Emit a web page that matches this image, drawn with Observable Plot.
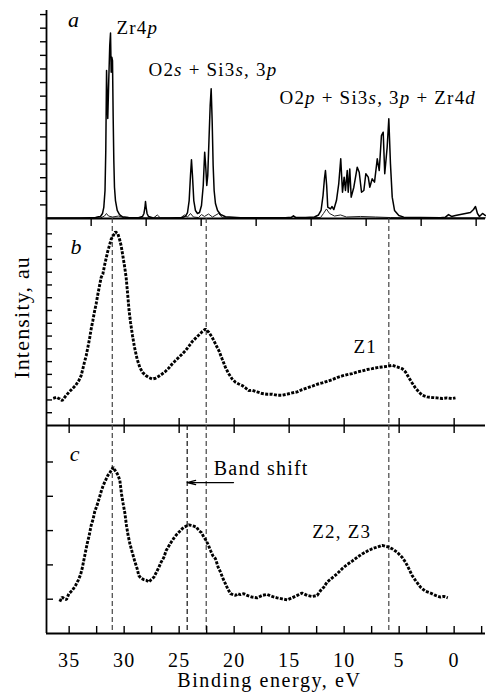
<!DOCTYPE html>
<html><head><meta charset="utf-8">
<script src="https://cdn.jsdelivr.net/npm/d3@7"></script>
<script src="https://cdn.jsdelivr.net/npm/@observablehq/plot@0.6"></script>
<style>
body{margin:0;background:#fff;}
#chart{position:relative;width:486px;height:692px;background:#fff;}
#chart svg{position:absolute;left:0;overflow:visible;font-family:"Liberation Serif","Times New Roman",serif !important;}
#chart text, #chart tspan{letter-spacing:1.2px;font-family:"Liberation Serif","Times New Roman",serif !important;}
#chart text.xlab{letter-spacing:1.6px;}
</style></head><body><div id="chart"></div>
<script>
// ---------- data ----------
const xDomain = [37.06, -2.85];

// panel a: calculated DOS (energy eV, intensity au)
const aMain = [[37.06,0.03],[35.79,0.03],[33.97,0.04],[33.06,0.06],[32.6,0.07],[32.33,0.13],[32.15,0.15],[31.97,0.37],[31.85,0.82],[31.74,2.06],[31.67,5.0],[31.6,10.88],[31.54,8.68],[31.49,7.35],[31.4,10.15],[31.31,12.72],[31.24,13.65],[31.18,10.76],[31.12,11.86],[31.06,11.62],[31.0,7.5],[30.94,4.26],[30.88,2.3],[30.79,1.32],[30.63,0.59],[30.42,0.29],[30.15,0.13],[29.6,0.07],[28.7,0.05],[28.33,0.15],[28.2,0.37],[28.11,0.81],[28.06,1.25],[28.0,0.81],[27.92,0.37],[27.79,0.15],[27.42,0.05],[25.79,0.04],[24.7,0.07],[24.42,0.18],[24.24,0.44],[24.09,1.32],[23.97,3.16],[23.88,4.32],[23.79,3.16],[23.67,1.32],[23.52,0.59],[23.33,0.37],[23.15,0.44],[22.97,0.96],[22.81,2.43],[22.68,4.88],[22.59,3.9],[22.49,2.43],[22.4,3.16],[22.29,5.74],[22.18,8.31],[22.09,9.54],[22.0,7.21],[21.91,3.9],[21.82,2.06],[21.7,1.1],[21.51,0.59],[21.24,0.29],[20.79,0.13],[19.42,0.06],[15.33,0.05],[14.79,0.09],[14.61,0.2],[14.42,0.09],[13.51,0.07],[12.7,0.11],[12.33,0.26],[12.1,0.59],[11.92,1.69],[11.79,2.94],[11.7,3.53],[11.59,2.43],[11.49,0.83],[11.24,0.71],[11.1,0.88],[10.94,0.66],[10.7,1.32],[10.49,2.57],[10.31,4.39],[10.15,1.93],[10.0,3.04],[9.88,2.06],[9.72,3.53],[9.63,1.93],[9.49,3.65],[9.36,1.57],[9.12,2.3],[8.81,3.77],[8.63,3.4],[8.42,1.93],[8.21,2.06],[8.03,3.29],[7.81,3.04],[7.67,2.3],[7.45,2.92],[7.24,2.67],[6.99,4.39],[6.81,3.53],[6.61,6.1],[6.45,6.35],[6.31,3.29],[6.09,5.24],[5.94,7.33],[5.79,4.02],[5.63,1.57],[5.42,0.59],[5.03,0.22],[4.58,0.1],[3.06,0.07],[1.24,0.05],[0.79,0.1],[0.51,0.29],[0.24,0.15],[-0.12,0.22],[-0.57,0.29],[-1.03,0.37],[-1.48,0.44],[-1.76,0.66],[-1.94,0.88],[-2.12,0.37],[-2.3,0.15],[-2.58,0.37],[-2.85,0.22]];
const aPartial = [[37.06,0.01],[32.15,0.04],[31.79,0.18],[31.61,0.37],[31.42,0.18],[31.06,0.11],[30.51,0.18],[29.97,0.05],[27.33,0.04],[26.99,0.26],[26.7,0.04],[24.88,0.05],[24.51,0.26],[24.24,0.11],[23.97,0.37],[23.7,0.11],[23.24,0.07],[22.97,0.29],[22.7,0.15],[22.33,0.33],[21.97,0.11],[21.42,0.37],[21.06,0.05],[14.88,0.04],[14.61,0.18],[14.33,0.04],[12.15,0.07],[11.88,0.37],[11.61,0.7],[11.33,0.37],[10.88,0.18],[10.33,0.26],[9.79,0.11],[8.51,0.15],[7.15,0.11],[5.79,0.07],[3.06,0.04],[0.79,0.05],[-2.85,0.05]];

// panel b: measured spectrum
const bSpectrum = [[36.45,2.13],[36.15,2.21],[35.85,2.08],[35.64,1.95],[35.33,2.29],[35.03,2.6],[34.73,2.86],[34.42,3.13],[34.12,3.52],[33.91,3.91],[33.76,4.42],[33.61,4.95],[33.45,5.47],[33.3,6.12],[33.15,6.77],[33.0,7.55],[32.85,8.2],[32.7,8.9],[32.55,9.5],[32.39,10.28],[32.24,10.94],[32.09,11.59],[31.94,11.84],[31.79,12.5],[31.64,13.07],[31.48,13.67],[31.33,14.11],[31.18,14.58],[31.0,14.84],[30.79,15.16],[30.58,15.02],[30.42,14.58],[30.27,14.06],[30.12,13.28],[29.97,12.5],[29.82,11.59],[29.67,10.16],[29.55,8.98],[29.42,8.07],[29.24,7.03],[29.06,6.12],[28.82,5.2],[28.58,4.55],[28.33,4.16],[28.03,3.91],[27.76,3.75],[27.45,3.64],[27.15,3.7],[26.85,3.85],[26.55,4.03],[26.24,4.24],[25.94,4.5],[25.64,4.81],[25.33,5.08],[25.03,5.34],[24.73,5.59],[24.42,5.86],[24.12,6.2],[23.82,6.56],[23.52,6.82],[23.21,7.08],[22.91,7.34],[22.61,7.55],[22.3,7.29],[22.0,6.9],[21.7,6.38],[21.39,5.86],[21.09,5.2],[20.79,4.55],[20.48,4.03],[20.18,3.64],[19.88,3.38],[19.58,3.25],[19.27,3.13],[18.97,2.94],[18.67,2.73],[18.36,2.76],[17.91,2.63],[17.45,2.5],[17.0,2.45],[16.55,2.45],[16.09,2.37],[15.64,2.37],[15.18,2.45],[14.73,2.55],[14.27,2.63],[13.82,2.81],[13.36,2.94],[12.91,3.07],[12.45,3.23],[12.0,3.33],[11.55,3.46],[11.09,3.59],[10.64,3.75],[10.18,3.88],[9.73,3.98],[9.27,4.06],[8.82,4.19],[8.36,4.27],[7.91,4.38],[7.45,4.45],[7.0,4.53],[6.55,4.58],[6.09,4.63],[5.64,4.71],[5.18,4.58],[4.73,4.45],[4.42,4.19],[4.12,3.75],[3.82,3.33],[3.52,2.94],[3.21,2.63],[2.91,2.37],[2.45,2.24],[2.0,2.19],[1.55,2.16],[1.09,2.11],[0.64,2.16],[0.18,2.11],[-0.12,2.16]];

// panel c: measured spectrum
const cSpectrum = [[35.85,0.93],[35.64,1.06],[35.42,1.01],[35.24,0.99],[35.03,1.16],[34.73,1.25],[34.42,1.4],[34.18,1.55],[33.97,1.71],[33.82,1.89],[33.67,2.13],[33.52,2.37],[33.36,2.62],[33.18,2.86],[33.0,3.15],[32.82,3.34],[32.67,3.56],[32.45,3.75],[32.27,3.94],[32.09,4.14],[31.91,4.31],[31.7,4.46],[31.48,4.61],[31.3,4.69],[31.15,4.77],[31.0,4.85],[30.88,4.78],[30.7,4.7],[30.55,4.61],[30.39,4.46],[30.24,4.07],[30.09,3.78],[29.94,3.52],[29.79,3.15],[29.64,2.86],[29.48,2.62],[29.27,2.37],[29.06,2.13],[28.82,1.89],[28.67,1.69],[28.46,1.61],[28.21,1.57],[27.97,1.55],[27.76,1.5],[27.55,1.57],[27.3,1.64],[27.06,1.79],[26.85,1.93],[26.64,2.08],[26.39,2.22],[26.18,2.42],[25.94,2.55],[25.73,2.66],[25.48,2.78],[25.24,2.88],[25.03,2.95],[24.79,3.03],[24.58,3.1],[24.36,3.13],[24.12,3.17],[23.91,3.15],[23.67,3.13],[23.42,3.1],[23.21,3.0],[22.97,2.94],[22.76,2.81],[22.55,2.71],[22.36,2.59],[22.15,2.42],[21.94,2.27],[21.7,2.18],[21.45,1.93],[21.24,1.79],[21.0,1.59],[20.79,1.45],[20.58,1.3],[20.33,1.16],[20.09,1.13],[19.88,1.11],[19.67,1.16],[19.42,1.13],[19.12,1.16],[18.82,1.11],[18.36,1.06],[17.91,1.04],[17.45,1.11],[17.0,1.14],[16.55,1.08],[16.09,1.04],[15.64,1.01],[15.18,0.98],[14.73,1.04],[14.27,1.11],[13.82,1.18],[13.36,1.11],[12.91,1.08],[12.45,1.11],[12.15,1.25],[11.85,1.35],[11.55,1.5],[11.09,1.62],[10.64,1.74],[10.18,1.89],[9.73,2.01],[9.27,2.11],[8.82,2.22],[8.36,2.32],[7.91,2.4],[7.45,2.47],[7.0,2.52],[6.55,2.57],[6.24,2.54],[5.94,2.52],[5.64,2.47],[5.18,2.37],[4.73,2.22],[4.42,2.08],[4.12,1.89],[3.82,1.69],[3.52,1.55],[3.06,1.35],[2.61,1.23],[2.15,1.18],[1.7,1.11],[1.24,1.06],[0.94,1.08],[0.58,1.04]];

// reference lines (eV)
const peakLinesB = [31.08, 22.54, 5.94];
const peakLinesC = [31.08, 22.54, 5.94];
const shiftedLineC = [24.27];
const bandShift = [{from: 20.06, to: 24.27, level: 4.40}];

// ticks
const aLeftTicks = [1,2,3,4,5,6,7,8,9,10,11,12,13,14,15];
const bLeftTicks = [1,2,3,4,5,6,7,8,9,10,11,12,13,14,15];
const cLeftTicks = [1,2,3,4,5];
const bTopTicks = [33,28,23,18,13,8,3,-2];
const majorTicks = [35,30,25,20,15,10,5,0];
const cBottomTicks = [35,32.5,30,27.5,25,22.5,20,17.5,15,12.5,10,7.5,5,2.5,0,-2.5];
const xTickLabels = [35,30,25,20,15,10,5,0];

// labels
const panelLabels = {a: "a", b: "b", c: "c"};
const aAnnotations = [
  {text: "Zr4*p*", e: 30.7, v: 13.6},
  {text: "O2*s* + Si3*s*, 3*p*", e: 27.79, v: 10.51},
  {text: "O2*p* + Si3*s*, 3*p* + Zr4*d*", e: 15.88, v: 8.43}
];
const bAnnotations = [{text: "Z1", e: 9.15, v: 5.65}];
const cAnnotations = [{text: "Z2, Z3", e: 12.9, v: 2.79}, {text: "Band shift", e: 21.85, v: 4.63}];
const yLabel = "Intensity, au";
const xLabel = "Binding energy, eV";

// ---------- layout ----------
const W = 486, ML = 46, MR = 1, FW = W - ML - MR;
const font = "Liberation Serif";
function base(o) {
  return Object.assign({
    width: W, marginLeft: ML, marginRight: MR,
    x: {domain: xDomain, axis: null},
    style: {overflow: "visible", fontFamily: font, fontSize: "19px", background: "transparent", color: "#000"}
  }, o);
}
const X = d => d[0], Y = d => d[1];
const frameLeft = Plot.ruleX([xDomain[0]], {strokeWidth: 1.8});
const dashStyle = {strokeDasharray: "5,3", strokeWidth: 1.2};
const dotted = {stroke: "#000", strokeWidth: 2.9, strokeDasharray: "3,1.4", strokeLinecap: "butt", strokeLinejoin: "miter"};

const hA = 218;
const chartA = Plot.plot(base({
  height: hA, marginTop: 10, marginBottom: 0,
  y: {domain: [0, 15.3], axis: null},
  marks: [
    Plot.line(aPartial, {x: X, y: Y, stroke: "#222", strokeWidth: 1}),
    Plot.line(aMain, {x: X, y: Y, stroke: "#000", strokeWidth: 1.5}),
    Plot.axisY(aLeftTicks, {tickSize: 6, tickFormat: () => "", label: null, strokeWidth: 1.4}),
    frameLeft,
    Plot.ruleY([0], {strokeWidth: 1.8}),
    Plot.text([panelLabels.a], {x: 35.1, y: 14.07, fontSize: 22, fontStyle: "italic", textAnchor: "start", lineAnchor: "bottom"}),
    Plot.text(aAnnotations, {x: "e", y: "v", text: "text", fontSize: 19, textAnchor: "start", lineAnchor: "bottom"})
  ]
}));

const hB = 207;
const chartB = Plot.plot(base({
  height: hB, marginTop: 0, marginBottom: 0,
  y: {domain: [0, 16.2], axis: null},
  marks: [
    Plot.ruleX(peakLinesB, {x: d => d, stroke: "#444", ...dashStyle}),
    Plot.line(bSpectrum, {x: X, y: Y, ...dotted}),
    Plot.tickY(bLeftTicks, {y: d => d, insetRight: FW - 6, strokeWidth: 1.4}),
    Plot.tickX(bTopTicks, {x: d => d, insetBottom: hB - 8, strokeWidth: 1.4}),
    Plot.tickX(majorTicks, {x: d => d, insetTop: hB - 7, strokeWidth: 1.4}),
    frameLeft,
    Plot.ruleY([0], {strokeWidth: 1.8}),
    Plot.text([panelLabels.b], {x: 34.88, y: 13.4, fontSize: 22, fontStyle: "italic", textAnchor: "start", lineAnchor: "bottom"}),
    Plot.text(bAnnotations, {x: "e", y: "v", text: "text", fontSize: 19, textAnchor: "start", lineAnchor: "bottom"}),
    Plot.text([yLabel], {x: xDomain[0], y: 8.46, dx: -24.7, rotate: -90, fontSize: 22, textAnchor: "middle", lineAnchor: "middle"})
  ]
}));

const fC = 208, hC = 267;
const chartC = Plot.plot(base({
  height: hC, marginTop: 0, marginBottom: hC - fC,
  y: {domain: [0, 6.064], axis: null},
  marks: [
    Plot.ruleX(peakLinesC, {x: d => d, stroke: "#444", ...dashStyle}),
    Plot.ruleX(shiftedLineC, {x: d => d, stroke: "#111", ...dashStyle}),
    Plot.line(cSpectrum, {x: X, y: Y, ...dotted}),
    Plot.tickY(cLeftTicks, {y: d => d, insetRight: FW - 7, strokeWidth: 1.4}),
    Plot.tickX(majorTicks, {x: d => d, insetBottom: fC - 8, strokeWidth: 1.4}),
    Plot.tickX(cBottomTicks, {x: d => d, insetTop: fC - 7, strokeWidth: 1.4}),
    frameLeft,
    Plot.ruleY([0], {strokeWidth: 1.8}),
    Plot.axisX(xTickLabels, {anchor: "bottom", tickSize: 0, tickPadding: 19, fontSize: 20, label: null}),
    Plot.arrow(bandShift, {x1: "from", x2: "to", y1: "level", y2: "level", headLength: 10, headAngle: 28, strokeWidth: 1.3}),
    Plot.text([panelLabels.c], {x: 34.94, y: 5.02, fontSize: 22, fontStyle: "italic", textAnchor: "start", lineAnchor: "bottom"}),
    Plot.text(cAnnotations, {x: "e", y: "v", text: "text", fontSize: d => d.text === "Band shift" ? 20 : 19, textAnchor: "start", lineAnchor: "bottom"}),
    Plot.text([xLabel], {x: 16.8, frameAnchor: "bottom", dy: 53.7, fontSize: 20, textAnchor: "middle", lineAnchor: "bottom"})
  ]
}));

const root = document.getElementById("chart");
[[chartA, 0], [chartB, 218], [chartC, 425]].forEach(([svg, top]) => {
  svg.style.top = top + "px";
  root.appendChild(svg);
  // italic segments marked with *...*
  d3.select(svg).selectAll("text").each(function() {
    if (this.textContent === xLabel) this.classList.add("xlab");
    if (this.querySelector("tspan")) return;
    const s = this.textContent;
    if (!s.includes("*")) return;
    this.textContent = "";
    s.split("*").forEach((part, i) => {
      if (!part) return;
      const t = document.createElementNS("http://www.w3.org/2000/svg", "tspan");
      t.textContent = part;
      if (i % 2 === 1) t.setAttribute("font-style", "italic");
      this.appendChild(t);
    });
  });
});
</script></body></html>
